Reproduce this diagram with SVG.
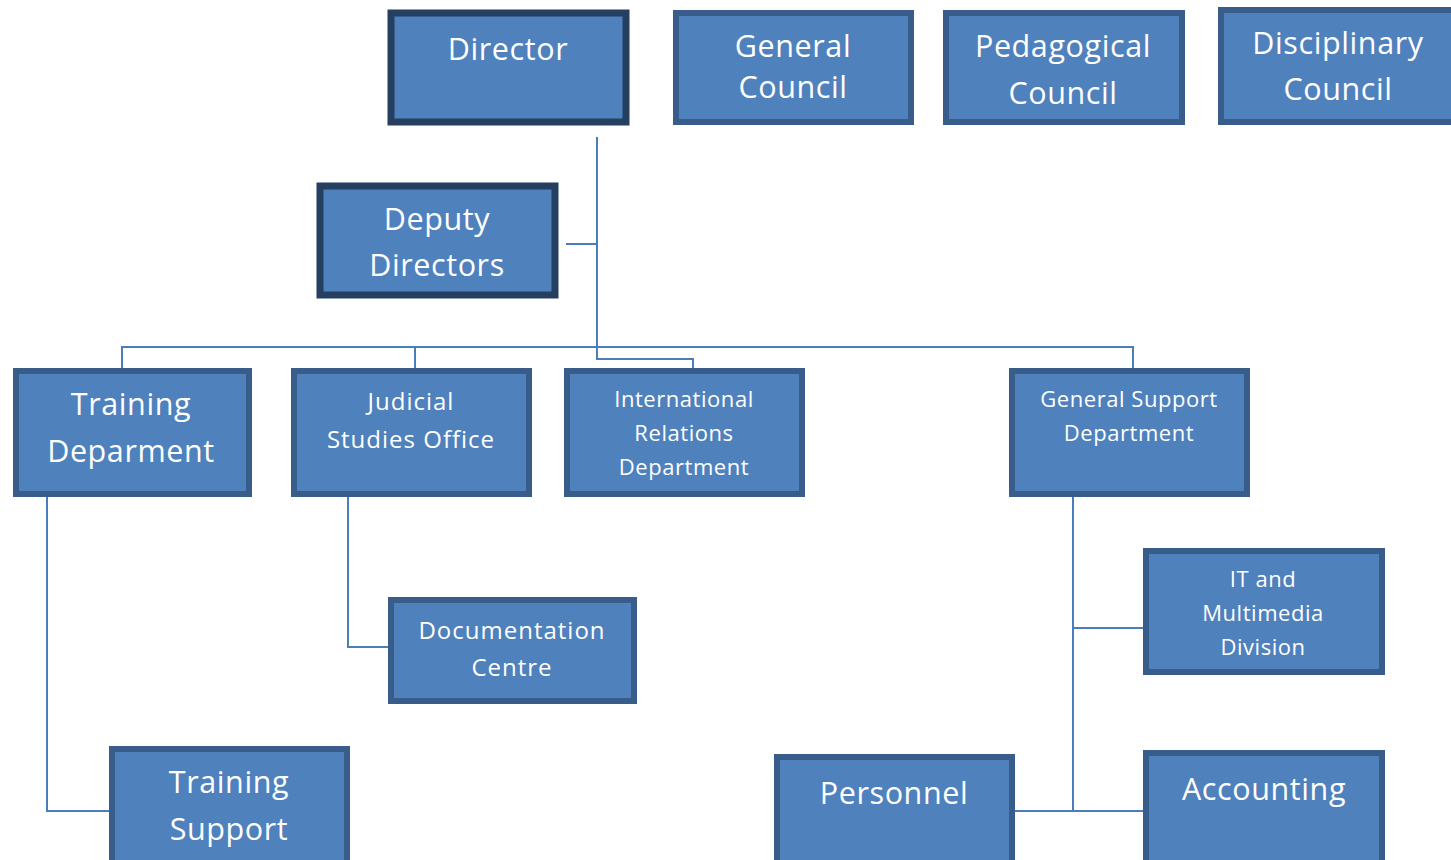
<svg xmlns="http://www.w3.org/2000/svg" width="1451" height="860" viewBox="0 0 1451 860">
<style>
.box{fill:#4F81BD;stroke:#385D8A;stroke-width:6}
.top{fill:#4F81BD;stroke:#243F60;stroke-width:7}
.t{font-family:"Open Sans","Liberation Sans",sans-serif;fill:#FFFFFF;text-anchor:middle}
.l{font-size:30.5px;letter-spacing:0.6px}
.m{font-size:24px;letter-spacing:1px}
.s{font-size:22px;letter-spacing:0.55px}
.c{fill:none;stroke:#4A7EBB;stroke-width:2}
</style>
<rect width="1451" height="860" fill="#FFFFFF"/>
<g id="connectors">
<path class="c" d="M597 137 V359 H693 V370"/>
<path class="c" d="M566 244 H597"/>
<path class="c" d="M122 370 V347 H1133 V370"/>
<path class="c" d="M415 347 V370"/>
<path class="c" d="M47 497 V811 H111"/>
<path class="c" d="M348 497 V647 H390"/>
<path class="c" d="M1073 497 V811"/>
<path class="c" d="M1073 628 H1145"/>
<path class="c" d="M1015 811 H1145"/>
</g>
<g id="director"><rect class="top" x="391" y="13" width="235" height="109"/><text class="t l" x="508" y="60">Director</text></g>
<g id="general-council"><rect class="box" x="676" y="13" width="235" height="109"/><text class="t l" x="793" y="57">General</text><text class="t l" x="793" y="98">Council</text></g>
<g id="pedagogical-council"><rect class="box" x="946" y="13" width="236" height="109"/><text class="t l" x="1063" y="57">Pedagogical</text><text class="t l" x="1063" y="104">Council</text></g>
<g id="disciplinary-council"><rect class="box" x="1221" y="10" width="240" height="112"/><text class="t l" x="1338" y="54">Disciplinary</text><text class="t l" x="1338" y="100">Council</text></g>
<g id="deputy-directors"><rect class="top" x="320" y="186" width="235" height="109"/><text class="t l" x="437" y="230">Deputy</text><text class="t l" x="437" y="276">Directors</text></g>
<g id="training-department"><rect class="box" x="16" y="371" width="233" height="123"/><text class="t l" x="131" y="415">Training</text><text class="t l" x="131" y="462">Deparment</text></g>
<g id="judicial-studies-office"><rect class="box" x="294" y="371" width="235" height="123"/><text class="t m" x="411" y="410">Judicial</text><text class="t m" x="411" y="448">Studies Office</text></g>
<g id="international-relations"><rect class="box" x="567" y="371" width="235" height="123"/><text class="t s" x="684" y="407">International</text><text class="t s" x="684" y="441">Relations</text><text class="t s" x="684" y="475">Department</text></g>
<g id="general-support"><rect class="box" x="1012" y="371" width="235" height="123"/><text class="t s" x="1129" y="407">General Support</text><text class="t s" x="1129" y="441">Department</text></g>
<g id="documentation-centre"><rect class="box" x="391" y="600" width="243" height="101"/><text class="t m" x="512" y="639">Documentation</text><text class="t m" x="512" y="676">Centre</text></g>
<g id="it-multimedia"><rect class="box" x="1146" y="551" width="236" height="121"/><text class="t s" x="1263" y="587">IT and</text><text class="t s" x="1263" y="621">Multimedia</text><text class="t s" x="1263" y="655">Division</text></g>
<g id="training-support"><rect class="box" x="112" y="749" width="235" height="120"/><text class="t l" x="229" y="793">Training</text><text class="t l" x="229" y="840">Support</text></g>
<g id="personnel"><rect class="box" x="777" y="757" width="235" height="112"/><text class="t l" x="894" y="804">Personnel</text></g>
<g id="accounting"><rect class="box" x="1146" y="753" width="236" height="116"/><text class="t l" x="1264" y="800">Accounting</text></g>
</svg>
